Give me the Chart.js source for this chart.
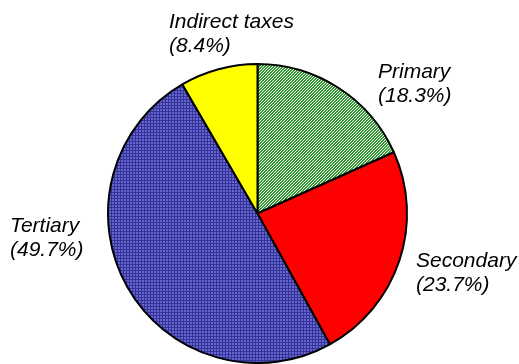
<!DOCTYPE html>
<html><head><meta charset="utf-8">
<script src="https://cdn.jsdelivr.net/npm/chart.js@4"></script>
<style>html,body{margin:0;padding:0;background:#fff}#wrap{width:519px;height:364px}</style>
</head><body><div id="wrap"><canvas id="c" width="519" height="364"></canvas></div>
<script>
const categories = ['Primary', 'Secondary', 'Tertiary', 'Indirect taxes'];
const shares = [18.3, 23.7, 49.7, 8.4];
const pctLabels = ['(18.3%)', '(23.7%)', '(49.7%)', '(8.4%)'];

function stripePattern(){
  const c = document.createElement('canvas'); c.width = 3; c.height = 3;
  const x = c.getContext('2d'); const img = x.createImageData(3,3);
  for (let j=0;j<3;j++) for (let i=0;i<3;i++){
    const k=(j*3+i)*4; const g = ((i + j) % 3) < 2;
    img.data[k] = g?0x33:255; img.data[k+1]=g?0x99:255; img.data[k+2]=g?0x33:255; img.data[k+3]=255;
  }
  x.putImageData(img,0,0);
  return x.createPattern(c,'repeat');
}
function gridPattern(){
  const c = document.createElement('canvas'); c.width = 3; c.height = 3;
  const x = c.getContext('2d'); const img = x.createImageData(3,3);
  for (let j=0;j<3;j++) for (let i=0;i<3;i++){
    const k=(j*3+i)*4; const d = (i===0 || j===0);
    img.data[k] = d?0x33:0x66; img.data[k+1]=d?0x33:0x66; img.data[k+2]=d?0x99:0xcc; img.data[k+3]=255;
  }
  x.putImageData(img,0,0);
  return x.createPattern(c,'repeat');
}

// label anchor positions (left x, first-line baseline y)
const labelPos = [[378,78],[416,267],[10,232],[169,28]];

const labelPlugin = {
  id: 'labels',
  afterDraw(chart){
    const ctx = chart.ctx;
    ctx.save();
    ctx.fillStyle = '#000';
    ctx.font = 'italic 21px "Liberation Sans"';
    ctx.textBaseline = 'alphabetic';
    ctx.textAlign = 'left';
    categories.forEach((c,i)=>{
      const [x,y] = labelPos[i];
      ctx.fillText(c, x, y);
      ctx.fillText(pctLabels[i], x, y+24);
    });
    ctx.restore();
  }
};

new Chart(document.getElementById('c'), {
  type: 'pie',
  data: {
    labels: categories,
    datasets: [{
      data: shares,
      backgroundColor: [stripePattern(), '#ff0000', gridPattern(), '#ffff00'],
      borderColor: '#000',
      borderWidth: 2
    }]
  },
  options: {
    responsive: false,
    animation: false,
    layout: { padding: { top: 63, bottom: 0, left: 0, right: 4 } },
    plugins: { legend: { display: false }, tooltip: { enabled: false } }
  },
  plugins: [labelPlugin]
});
</script></body></html>
